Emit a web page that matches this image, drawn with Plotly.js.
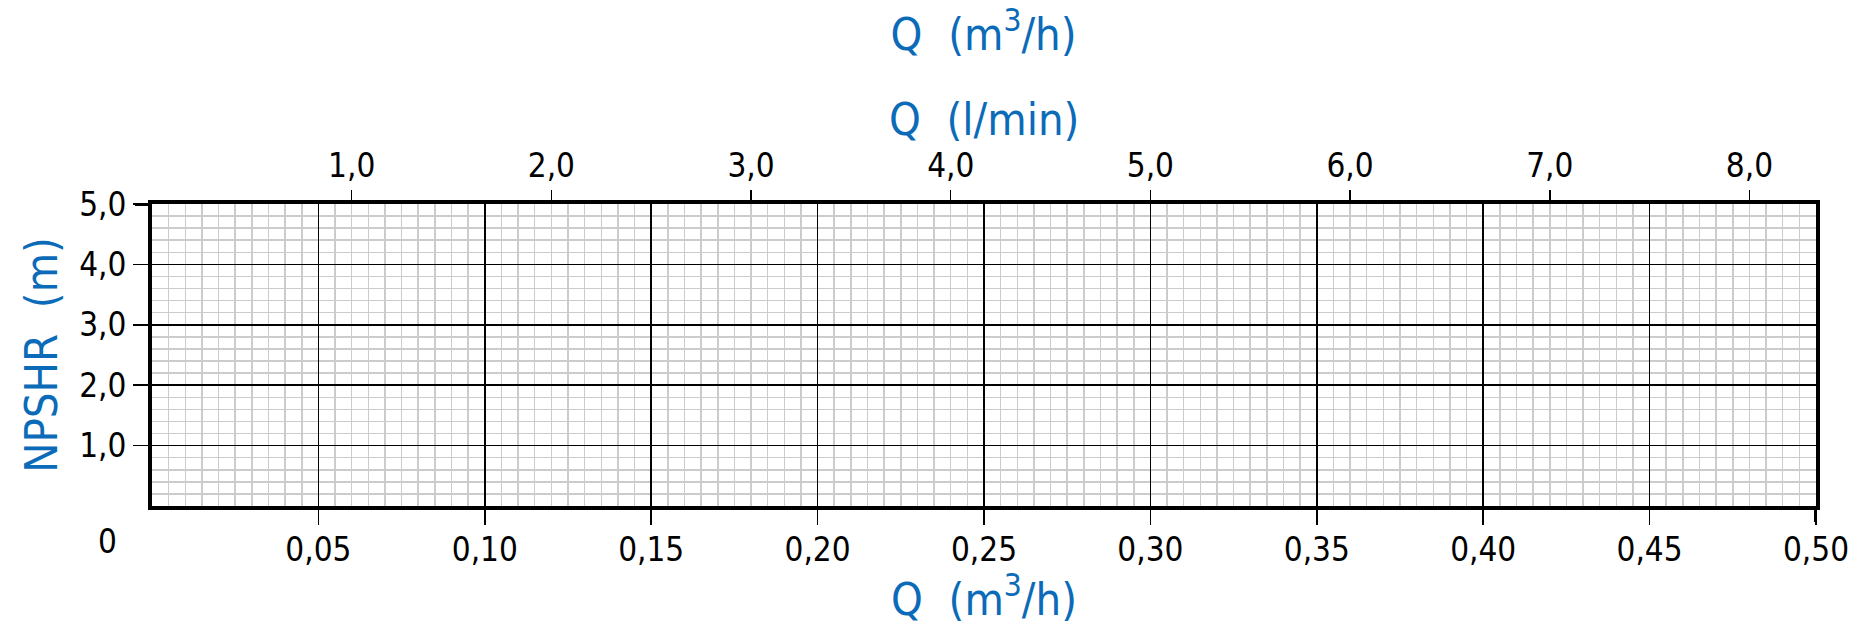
<!DOCTYPE html>
<html>
<head>
<meta charset="utf-8">
<script src="https://cdn.plot.ly/plotly-3.0.1.min.js"></script>
<style>
html,body{margin:0;padding:0;background:#fff;}
#chart{width:1865px;height:626px;}
</style>
</head>
<body>
<div id="chart"></div>
<script>
// Bottom axis: flow Q in m³/h
const qM3hTicks = [0.05, 0.10, 0.15, 0.20, 0.25, 0.30, 0.35, 0.40, 0.45, 0.50];
const qM3hLabels = ["0,05", "0,10", "0,15", "0,20", "0,25", "0,30", "0,35", "0,40", "0,45", "0,50"];
const qM3hRange = [0, 0.5];
// Top axis: flow Q in l/min (same physical range: 0.5 m³/h = 8.333 l/min)
const qLminTicks = [1, 2, 3, 4, 5, 6, 7, 8];
const qLminLabels = ["1,0", "2,0", "3,0", "4,0", "5,0", "6,0", "7,0", "8,0"];
const qLminRange = [0, 0.5 * 1000 / 60];
// Left axis: NPSHR in m
const npshrTicks = [1, 2, 3, 4, 5];
const npshrLabels = ["1,0", "2,0", "3,0", "4,0", "5,0"];
const npshrRange = [0, 5];
// Series (blank chart: no curve plotted)
const npshrSeriesQ = [];
const npshrSeriesH = [];

const FONT = "'DejaVu Sans Condensed', 'DejaVu Sans', sans-serif";
const BLUE = "#0b6bb8";
const TICKFONT = {family: FONT, size: 33, color: "#000"};
const TITLEFONT = {family: FONT, size: 45, color: BLUE};

const traces = [
  {x: npshrSeriesQ, y: npshrSeriesH, type: "scatter", mode: "lines", xaxis: "x", yaxis: "y",
   line: {color: BLUE, width: 3}, showlegend: false, hoverinfo: "skip"},
  {x: npshrSeriesQ, y: npshrSeriesH, type: "scatter", mode: "lines", xaxis: "x2", yaxis: "y",
   showlegend: false, hoverinfo: "skip"}
];

const layout = {
  width: 1865, height: 626,
  margin: {l: 152, r: 49, t: 204, b: 120, pad: 0},
  paper_bgcolor: "#fff", plot_bgcolor: "#fff",
  font: {family: FONT, color: "#000"},
  showlegend: false,
  title: {text: "Q  (m<sup>3</sup>/h)", font: TITLEFONT, x: 0.5274, xanchor: "center",
          y: 1 - 34 / 626, yanchor: "middle", yref: "container", xref: "container"},
  xaxis: {
    range: qM3hRange, tickmode: "array", tickvals: qM3hTicks, ticktext: qM3hLabels,
    ticks: "outside", ticklen: 15, tickwidth: 1.5, tickcolor: "#000",
    tickfont: TICKFONT, ticklabelstandoff: -4,
    showgrid: true, gridcolor: "#000", gridwidth: 1.5,
    minor: {tickmode: "linear", tick0: 0, dtick: 0.005, showgrid: true, gridcolor: "#cccccc", gridwidth: 1.5, ticks: ""},
    showline: true, linecolor: "#000", linewidth: 4, mirror: true,
    zeroline: false, fixedrange: true,
    title: {text: "Q  (m<sup>3</sup>/h)", font: TITLEFONT, standoff: 14}
  },
  xaxis2: {
    range: qLminRange, overlaying: "x", side: "top", anchor: "y",
    tickmode: "array", tickvals: qLminTicks, ticktext: qLminLabels,
    ticks: "outside", ticklen: 13, tickwidth: 1.5, tickcolor: "#000",
    tickfont: TICKFONT, showgrid: false, zeroline: false, showline: false, fixedrange: true
  },
  yaxis: {
    range: npshrRange, tickmode: "array", tickvals: npshrTicks, ticktext: npshrLabels,
    ticks: "outside", ticklen: 15, tickwidth: 1.5, tickcolor: "#000",
    tickfont: TICKFONT,
    showgrid: true, gridcolor: "#000", gridwidth: 1.5,
    minor: {tickmode: "linear", tick0: 0, dtick: 0.2, showgrid: true, gridcolor: "#cccccc", gridwidth: 1.5, ticks: ""},
    showline: true, linecolor: "#000", linewidth: 4, mirror: true,
    zeroline: false, fixedrange: true,
    title: {text: "NPSHR  (m)", font: TITLEFONT, standoff: 8}
  },
  annotations: [
    {text: "0", xref: "paper", yref: "paper", x: (107 - 152) / 1664, y: (506 - 541) / 302,
     xanchor: "center", yanchor: "middle", showarrow: false, font: TICKFONT},
    // title of the top (l/min) axis
    {text: "Q  (l/min)", xref: "paper", yref: "paper", x: 0.5, y: (506 - 120) / 302,
     xanchor: "center", yanchor: "middle", showarrow: false, font: TITLEFONT}
  ],
  shapes: [
    // thick extensions of the frame at the 5,0 and 0,50 corners
    {type: "line", xref: "paper", yref: "y", x0: -17 / 1664, x1: 0, y0: npshrRange[1], y1: npshrRange[1],
     line: {color: "#000", width: 4}},
    {type: "line", xref: "x", yref: "paper", x0: qM3hRange[1], x1: qM3hRange[1], y0: -16 / 302, y1: 0,
     line: {color: "#000", width: 4}}
  ]
};

Plotly.newPlot("chart", traces, layout, {displayModeBar: false, staticPlot: true});
</script>
</body>
</html>
